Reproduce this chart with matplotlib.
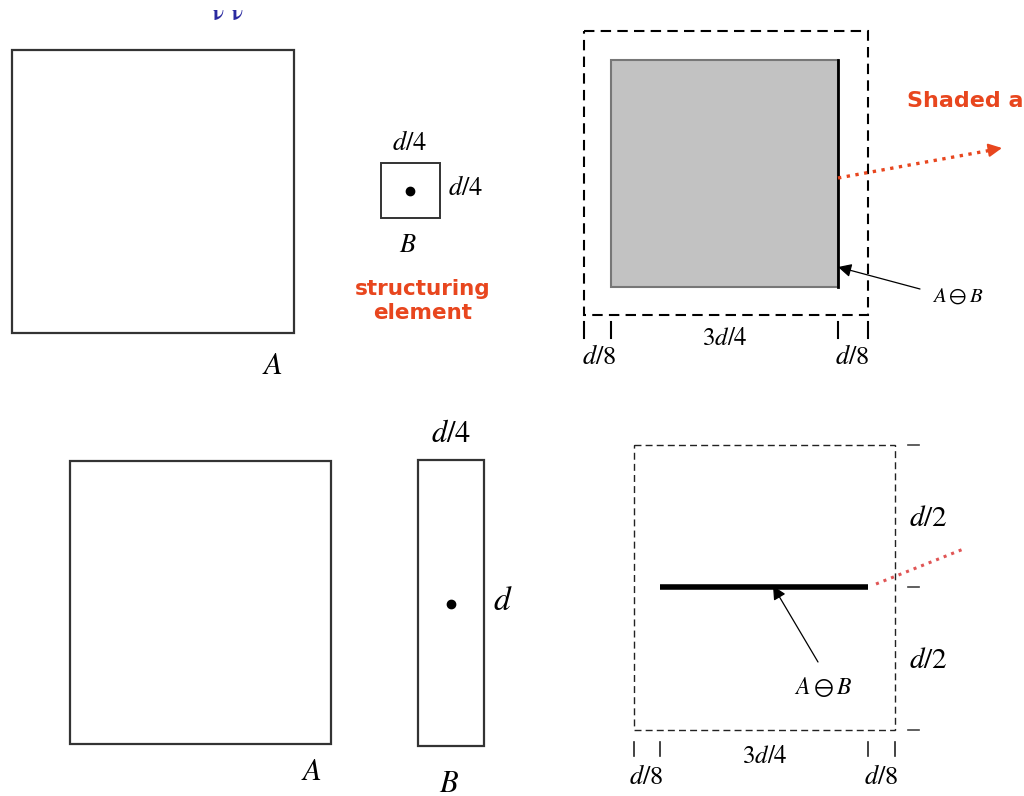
import matplotlib.pyplot as plt
from matplotlib.patches import Rectangle

plt.rcParams['mathtext.fontset'] = 'stix'

# shapes in picture pixels: (x0, y0, x1, y1)
sq_a_top = (12, 50, 294, 333)
se_b_top = (381, 163, 440, 218)
dash_top = (584, 31, 868, 315)
erosion_top = (611, 60, 838, 287)
sq_a_bot = (70, 461, 331, 744)
se_b_bot = (418, 460, 484, 746)
dash_bot = (634, 445, 895, 730)
erosion_bot = (660, 587, 868, 587)

origins = [(410, 191), (451, 604)]
ticks_top = [584, 611, 838, 868]
ticks_bot = [634, 660, 868, 895]
side_marks = [445, 587, 730]

labels_serif = [
    ("$A$", 272, 365, 22), ("$d/4$", 410, 143, 19), ("$d/4$", 466, 188, 19),
    ("$B$", 408, 245, 19), ("$3d/4$", 725, 338, 18), ("$d/8$", 599, 357, 19),
    ("$d/8$", 852, 357, 19), ("$A\\ominus B$", 958, 296, 15),
    ("$A$", 311, 772, 22), ("$d/4$", 451, 434, 22), ("$d$", 503, 601, 24),
    ("$B$", 449, 783, 22), ("$d/2$", 928, 518, 21), ("$d/2$", 928, 660, 21),
    ("$A\\ominus B$", 823, 687, 17), ("$3d/4$", 765, 756, 18),
    ("$d/8$", 646, 777, 19), ("$d/8$", 881, 777, 19),
]

red = '#e8461e'

fig = plt.figure(figsize=(10.24, 7.96), dpi=100)
ax = fig.add_axes([0, 0, 1, 1])
ax.set_xlim(0, 1024)
ax.set_ylim(796, 0)
ax.axis('off')


def rect(r, **kw):
    ax.add_patch(Rectangle((r[0], r[1]), r[2] - r[0], r[3] - r[1], **kw))


rect(sq_a_top, fill=False, ec='#333333', lw=1.6)
rect(se_b_top, fill=False, ec='#333333', lw=1.4)
rect(dash_top, fill=False, ec='black', lw=1.5, ls=(0, (5, 3)))
rect(erosion_top, fc='#c2c2c2', ec='#777777', lw=1.5)
ax.plot([erosion_top[2]] * 2, [erosion_top[1], erosion_top[3]], color='black', lw=2)
rect(sq_a_bot, fill=False, ec='#333333', lw=1.6)
rect(se_b_bot, fill=False, ec='#333333', lw=1.6)
rect(dash_bot, fill=False, ec='#222222', lw=1.0, ls=(0, (5, 3)))
ax.plot([erosion_bot[0], erosion_bot[2]], [erosion_bot[1], erosion_bot[3]],
        color='black', lw=4, solid_capstyle='butt')

for x, y in origins:
    ax.plot(x, y, 'o', color='black', ms=6)

for x in ticks_top:
    ax.plot([x, x], [322, 338], color='black', lw=1.5)
for x in ticks_bot:
    ax.plot([x, x], [742, 756], color='#222222', lw=1.2)
for y in side_marks:
    ax.plot([908, 919], [y, y], color='#444444', lw=1.2)

for s, x, y, fs in labels_serif:
    ax.text(x, y, s, fontsize=fs, ha='center', va='center')

ax.text(423, 301, "structuring\nelement", color=red, fontsize=15.5,
        fontweight='bold', ha='center', va='center', linespacing=1.25)
ax.text(907, 101, "Shaded a", color=red, fontsize=16, fontweight='bold',
        ha='left', va='center', clip_on=True)
ax.text(228, 14, "$\\mathbf{\\nu\\;\\;\\nu}$", color='#2a2aa0', fontsize=15,
        ha='center', va='center')

# red dotted pointers
ax.plot([838, 992], [178, 150], color=red, lw=2.4, ls=':')
ax.annotate("", xy=(1002, 148), xytext=(990, 150),
            arrowprops=dict(arrowstyle='-|>', color=red, lw=1.5,
                            mutation_scale=20, shrinkA=0, shrinkB=0))
ax.plot([876, 966], [584, 548], color='#e05555', lw=2.2, ls=':')

# black pointers to the erosion result
ax.annotate("", xy=(838, 267), xytext=(920, 289),
            arrowprops=dict(arrowstyle='-|>', color='black', lw=0.9,
                            mutation_scale=20, shrinkA=0, shrinkB=0))
ax.annotate("", xy=(773, 586), xytext=(818, 662),
            arrowprops=dict(arrowstyle='-|>', color='black', lw=0.9,
                            mutation_scale=20, shrinkA=0, shrinkB=0))

fig.savefig('out.png', dpi=100)
